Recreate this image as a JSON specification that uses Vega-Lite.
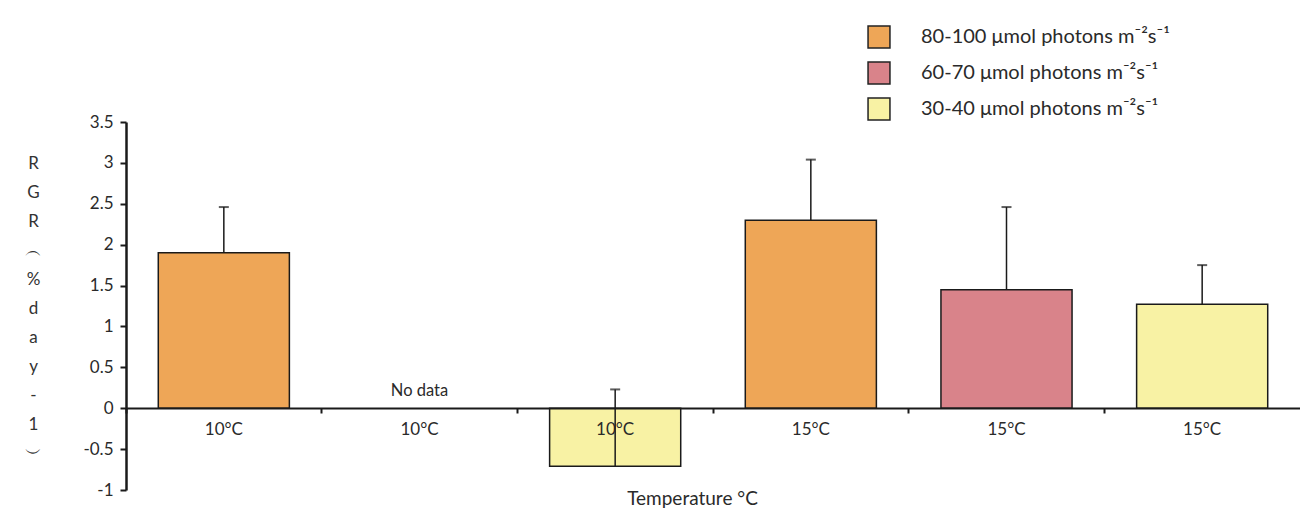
{
  "$schema": "https://vega.github.io/schema/vega-lite/v6.json",
  "width": 1174,
  "height": 368,
  "autosize": {"type": "none"},
  "padding": {"left": 126, "top": 122, "right": 0, "bottom": 19},
  "background": "white",
  "config": {"view": {"stroke": null}, "font": "Lato"},
  "data": {
    "values": [
      {"grp": "10°C|1", "light": "80-100 μmol photons m⁻²s⁻¹", "rgr": 1.90, "upper": 2.46},
      {"grp": "10°C|2", "light": "60-70 μmol photons m⁻²s⁻¹", "rgr": null, "upper": null, "note": "No data"},
      {"grp": "10°C|3", "light": "30-40 μmol photons m⁻²s⁻¹", "rgr": -0.71, "upper": 0.23},
      {"grp": "15°C|4", "light": "80-100 μmol photons m⁻²s⁻¹", "rgr": 2.30, "upper": 3.04},
      {"grp": "15°C|5", "light": "60-70 μmol photons m⁻²s⁻¹", "rgr": 1.45, "upper": 2.46},
      {"grp": "15°C|6", "light": "30-40 μmol photons m⁻²s⁻¹", "rgr": 1.27, "upper": 1.75}
    ]
  },
  "encoding": {
    "x": {
      "field": "grp",
      "type": "nominal",
      "sort": null,
      "scale": {
        "domain": ["10°C|1", "10°C|2", "10°C|3", "15°C|4", "15°C|5", "15°C|6"],
        "paddingInner": 0.33,
        "paddingOuter": 0.165
      },
      "axis": {
        "title": "Temperature °C",
        "offset": -82,
        "labelExpr": "split(datum.value, '|')[0]",
        "labelAngle": 0,
        "labelFontSize": 17,
        "labelColor": "#2a2a2a",
        "labelPadding": 8,
        "tickSize": 5,
        "tickColor": "#1a1a1a",
        "tickWidth": 2,
        "bandPosition": -0.246,
        "domainColor": "#1a1a1a",
        "domainWidth": 2,
        "titleFontSize": 19,
        "titleFontWeight": "normal",
        "titleColor": "#2a2a2a",
        "titleX": 566,
        "titleY": 90,
        "titleAlign": "center",
        "titleBaseline": "middle",
        "zindex": 1
      }
    }
  },
  "layer": [
    {
      "mark": {"type": "bar", "stroke": "#1a1a1a", "strokeWidth": 1.5},
      "encoding": {
        "y": {
          "field": "rgr",
          "type": "quantitative",
          "scale": {"domain": [-1, 3.5], "nice": false, "zero": false},
          "axis": {
            "title": ["R", "G", "R", "︵", "%", "d", "a", "y", "-", "1", "︶"],
            "titleAngle": 0,
            "titleX": -93,
            "titleY": 33,
            "titleAlign": "center",
            "titleBaseline": "top",
            "titleLineHeight": 29,
            "titleFontSize": 17,
            "titleFontWeight": "normal",
            "titleColor": "#333",
            "values": [-1, -0.5, 0, 0.5, 1, 1.5, 2, 2.5, 3, 3.5],
            "labelExpr": "'' + datum.value",
            "labelFontSize": 17,
            "labelColor": "#2a2a2a",
            "labelPadding": 7,
            "tickSize": 6,
            "tickColor": "#1a1a1a",
            "tickWidth": 2,
            "domainColor": "#1a1a1a",
            "domainWidth": 2.5,
            "grid": false
          }
        },
        "color": {
          "field": "light",
          "type": "nominal",
          "scale": {
            "domain": ["80-100 μmol photons m⁻²s⁻¹", "60-70 μmol photons m⁻²s⁻¹", "30-40 μmol photons m⁻²s⁻¹"],
            "range": ["#EEA657", "#D9838A", "#F8F2A4"]
          },
          "legend": {
            "orient": "none",
            "legendX": 741,
            "legendY": -97,
            "title": null,
            "padding": 0,
            "symbolType": "square",
            "symbolSize": 480,
            "symbolStrokeColor": "#222",
            "symbolStrokeWidth": 1.5,
            "symbolOpacity": 1,
            "labelFontSize": 20,
            "labelColor": "#2a2a2a",
            "labelLimit": 0,
            "labelOffset": 30,
            "rowPadding": 8
          }
        }
      }
    },
    {
      "mark": {"type": "rule", "color": "#1a1a1a", "strokeWidth": 1.5},
      "encoding": {
        "y": {"field": "rgr", "type": "quantitative"},
        "y2": {"field": "upper"}
      }
    },
    {
      "mark": {"type": "tick", "color": "#1a1a1a", "thickness": 2, "size": 10},
      "encoding": {"y": {"field": "upper", "type": "quantitative"}}
    },
    {
      "transform": [{"filter": "datum.note != null"}],
      "mark": {"type": "text", "dy": -17, "fontSize": 16.5, "color": "#2a2a2a"},
      "encoding": {"text": {"field": "note"}, "y": {"datum": 0}}
    }
  ]
}
